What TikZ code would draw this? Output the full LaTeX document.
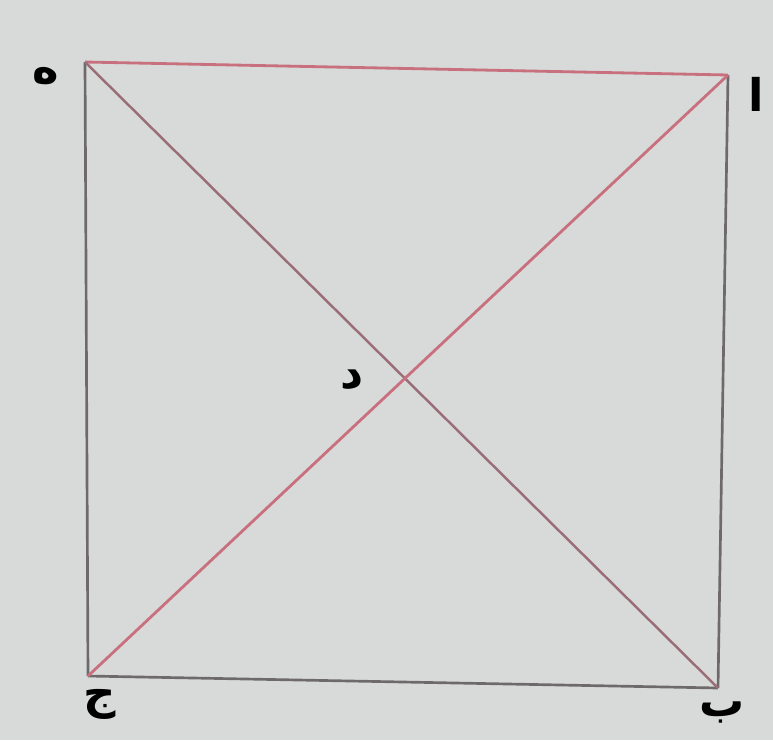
\documentclass[tikz,border=0pt]{standalone}
\usepackage{fontspec}
\usepackage{tikz}
\usetikzlibrary{positioning}
\newfontfamily\arabicfont[Script=Arabic]{DejaVu Sans}
\TeXXeTstate=1
\definecolor{paper}{HTML}{D8DAD9}
\definecolor{pencil}{HTML}{6E6A6C}
\definecolor{redpen}{HTML}{C9707E}
\definecolor{mixpen}{HTML}{9A6E78}
\newcommand{\harf}[1]{\arabicfont\beginR #1\endR}

\begin{document}
\begin{tikzpicture}[
  x=0.05cm,y=-0.05cm,
  every node/.style={font=\fontsize{64}{70}\selectfont\bfseries,text=black,inner sep=0pt},
  side/.style={draw=pencil,line width=3.8pt},
  redside/.style={draw=redpen,line width=4pt},
  diag/.style={draw=mixpen,line width=3.5pt}
]
\fill[paper] (0,0) rectangle (773,740);
\coordinate (h) at (85,62);
\coordinate (a) at (728,75);
\coordinate (b) at (718,688);
\coordinate (j) at (88,676);
\node (lh) at (46,76) {\harf{ه}};
\node (la) at (756,94) {\harf{ا}};
\node (lb) at (722,712) {\harf{ب}};
\node (lj) at (100,704) {\harf{ج}};
\node (ld) at (352,380) {\harf{د}};
\draw[redside] (h) -- (a);
\draw[side] (a) -- (b);
\draw[side] (b) -- (j);
\draw[side] (j) -- (h);
\draw[diag] (h) -- (b);
\draw[redside] (a) -- (j);
\end{tikzpicture}
\end{document}
